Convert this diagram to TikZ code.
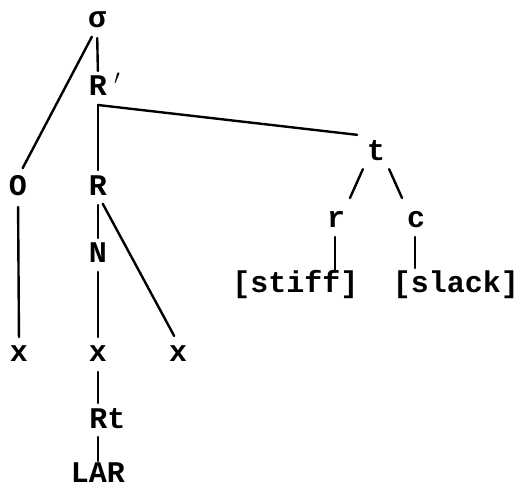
\documentclass[tikz,border=0pt]{standalone}
\usepackage{fontspec}
\setmonofont{Liberation Mono}
\begin{document}
\begin{tikzpicture}[x=1pt,y=-1pt,
  lbl/.style={font=\ttfamily\bfseries\fontsize{30}{30}\selectfont, anchor=base,
    inner sep=0pt, outer sep=0pt, text height=18pt, text depth=0pt},
  edge/.style={line width=2.4pt, line cap=round}]
\useasboundingbox (0,0) rectangle (524,491);
% nodes
\node[lbl] (sigma) at (97,27) {σ};
\node[lbl] (Rp) at (98,95) {R};
\node[inner sep=0pt] (prime) at (117,79) {\fontsize{20}{20}\selectfont$\prime$};
\node[lbl] (O) at (18,195) {O};
\node[lbl] (R) at (98,195) {R};
\node[lbl] (t) at (376,160) {t};
\node[lbl] (r) at (336,227) {r};
\node[lbl] (c) at (416,227) {c};
\node[lbl] (stiff) at (295.5,292) {[stiff]};
\node[lbl] (slack) at (456,292) {[slack]};
\node[lbl] (N) at (98,262) {N};
\node[lbl] (x1) at (19,361) {x};
\node[lbl] (x2) at (98,361) {x};
\node[lbl] (x3) at (178,361) {x};
\node[lbl] (Rt) at (107.5,428) {Rt};
\node[lbl] (LAR) at (98,482) {LAR};
\coordinate (j) at ([yshift=-10pt]Rp.south);
% connectors
\draw[edge, shorten <=11pt, shorten >=6pt] (sigma.south) -- (Rp.north);
\draw[edge, shorten <=11pt, shorten >=10pt] (sigma.south) -- (O.north);
\draw[edge, shorten <=10pt, shorten >=7pt] (Rp.south) -- (R.north);
\draw[edge, shorten >=19pt] (j) -- ([yshift=5pt]t.north);
\draw[edge, shorten <=10pt, shorten >=12pt] (t.south west) -- (r.north east);
\draw[edge, shorten <=10pt, shorten >=12pt] (t.south east) -- (c.north west);
\draw[edge, shorten <=10pt, shorten >=2pt] ([xshift=-1pt]r.south) -- ([xshift=-1pt]r.south |- stiff.north);
\draw[edge, shorten <=10pt, shorten >=6pt] ([xshift=-1pt]c.south) -- ([xshift=-1pt]c.south |- slack.north);
\draw[edge, shorten <=12pt, shorten >=6pt] (O.south) -- (x1.north);
\draw[edge, shorten <=10pt, shorten >=6pt] (R.south) -- (N.north);
\draw[edge, shorten <=10pt, shorten >=8pt] (R.south) -- (x3.north);
\draw[edge, shorten <=10pt, shorten >=6pt] (N.south) -- (x2.north);
\draw[edge, shorten <=11pt, shorten >=7pt] (x2.south) -- (x2.south |- Rt.north);
\draw[edge, shorten <=9pt, shorten >=3pt] (x2.south |- Rt.south) -- (LAR.north);
\end{tikzpicture}
\end{document}
